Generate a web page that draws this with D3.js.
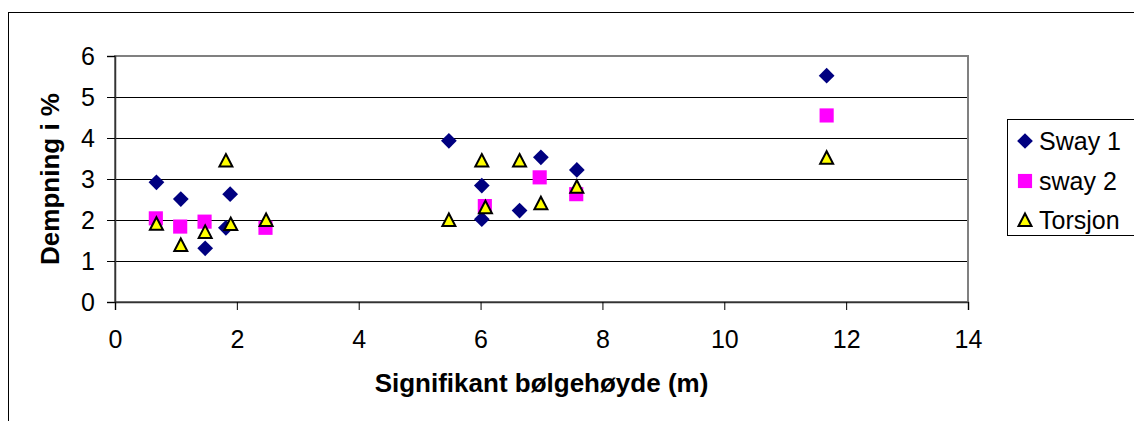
<!DOCTYPE html>
<html>
<head>
<meta charset="utf-8">
<script src="https://cdn.jsdelivr.net/npm/d3@7"></script>
<style>
  body { margin: 0; background: #fff; }
  text { font-family: "Liberation Sans", Arial, sans-serif; }
</style>
</head>
<body>
<div id="chart"></div>
<script>
// Signifikant bølgehøyde (m) vs demping (%)
var sway1X = [0.68, 1.08, 1.48, 1.82, 1.89, 5.48, 6.02, 6.02, 6.64, 6.99, 7.58, 11.68];
var sway1Y = [2.92, 2.51, 1.31, 1.81, 2.63, 3.93, 2.84, 2.02, 2.23, 3.53, 3.22, 5.52];

var sway2X = [0.67, 1.07, 1.47, 2.47, 6.07, 6.97, 7.57, 11.68];
var sway2Y = [2.04, 1.84, 1.96, 1.81, 2.34, 3.04, 2.63, 4.55];

var torsX = [0.68, 1.08, 1.48, 1.82, 1.9, 2.48, 5.48, 6.02, 6.08, 6.64, 6.99, 7.58, 11.68];
var torsY = [1.91, 1.39, 1.71, 3.45, 1.9, 2.0, 2.0, 3.45, 2.31, 3.45, 2.41, 2.81, 3.52];

var seriesNames = ["Sway 1", "sway 2", "Torsjon"];
var xTicks = [0, 2, 4, 6, 8, 10, 12, 14];
var yTicks = [0, 1, 2, 3, 4, 5, 6];

var W = 1134, H = 421;
var margin = {top: 56, left: 115, right: 166, bottom: 119};
var w = W - margin.left - margin.right;
var h = H - margin.top - margin.bottom;

var svg = d3.select("#chart").append("svg")
    .attr("width", W)
    .attr("height", H);

// outer chart frame (runs off the picture right and bottom)
svg.append("rect")
    .attr("x", 8.5).attr("y", 12.5)
    .attr("width", W + 20).attr("height", H + 20)
    .style("fill", "none").style("stroke", "#000").style("stroke-width", 1);

var g = svg.append("g")
    .attr("transform", "translate(" + margin.left + "," + margin.top + ")");

var x = d3.scaleLinear().domain([0, 14]).range([0, w]);
var y = d3.scaleLinear().domain([0, 6]).range([h, 0]);

// gridlines
g.selectAll("line.grid").data(yTicks.filter(function(d) { return d > 0 && d < 6; })).enter()
  .append("line")
    .attr("class", "grid")
    .attr("x1", 0).attr("x2", w)
    .attr("y1", function(d) { return Math.round(y(d)) + 0.5; })
    .attr("y2", function(d) { return Math.round(y(d)) + 0.5; })
    .style("stroke", "#000").style("stroke-width", 1);

// plot area border
g.append("rect")
    .attr("x", 0).attr("y", 0).attr("width", w).attr("height", h)
    .style("fill", "none").style("stroke", "#808080").style("stroke-width", 2);

// axes
var yAxis = g.append("g")
    .call(d3.axisLeft(y).tickValues(yTicks).tickSize(8).tickPadding(12).tickFormat(d3.format("d")));
var xAxis = g.append("g")
    .attr("transform", "translate(0," + h + ")")
    .call(d3.axisBottom(x).tickValues(xTicks).tickSize(8).tickPadding(20).tickFormat(d3.format("d")));

[yAxis, xAxis].forEach(function(a) {
  a.select(".domain").style("stroke", "#333").style("stroke-width", 1.5);
  a.selectAll(".tick line").style("stroke", "#000");
  a.selectAll(".tick text")
    .style("font-family", "'Liberation Sans', Arial, sans-serif")
    .style("font-size", "25px")
    .style("fill", "#000");
});
xAxis.selectAll(".tick text").attr("dy", "0.71em");

// titles
svg.append("text")
    .attr("x", margin.left + w / 2)
    .attr("y", 392)
    .attr("text-anchor", "middle")
    .style("font-size", "26px").style("font-weight", "bold")
    .text("Signifikant bølgehøyde (m)");

svg.append("text")
    .attr("transform", "translate(59," + (margin.top + h / 2) + ") rotate(-90)")
    .attr("text-anchor", "middle")
    .style("font-size", "26px").style("font-weight", "bold")
    .text("Dempning i %");

// marker shapes
var diamond = d3.symbol().type(d3.symbolSquare).size(124);
var square = d3.symbol().type(d3.symbolSquare).size(200);
function triangle() { return "M0,-6.5L6.5,6L-6.5,6Z"; }

function drawSeries(xs, ys, kind) {
  var pts = xs.map(function(d, i) { return [d, ys[i]]; });
  var sel = g.selectAll("path." + kind).data(pts).enter()
    .append("path")
      .attr("class", kind);
  if (kind === "s1") {
    sel.attr("d", diamond)
      .attr("transform", function(d) { return "translate(" + x(d[0]) + "," + y(d[1]) + ") rotate(45)"; })
      .style("fill", "#000080");
  } else if (kind === "s2") {
    sel.attr("d", square)
      .attr("transform", function(d) { return "translate(" + x(d[0]) + "," + y(d[1]) + ")"; })
      .style("fill", "#ff00ff");
  } else {
    sel.attr("d", triangle)
      .attr("transform", function(d) { return "translate(" + x(d[0]) + "," + y(d[1]) + ")"; })
      .style("fill", "#ffff00").style("stroke", "#000").style("stroke-width", 2)
      .style("stroke-linejoin", "miter");
  }
}

drawSeries(sway1X, sway1Y, "s1");
drawSeries(sway2X, sway2Y, "s2");
drawSeries(torsX, torsY, "tr");

// legend
var legend = svg.append("g").attr("transform", "translate(1007,119)");
legend.append("rect")
    .attr("x", 0.5).attr("y", 0.5).attr("width", 200).attr("height", 116)
    .style("fill", "#fff").style("stroke", "#000").style("stroke-width", 1);

var rowY = [22, 62, 101];
seriesNames.forEach(function(name, i) {
  var m = legend.append("path");
  if (i === 0) {
    m.attr("d", diamond).attr("transform", "translate(18," + rowY[i] + ") rotate(45)").style("fill", "#000080");
  } else if (i === 1) {
    m.attr("d", square).attr("transform", "translate(18," + rowY[i] + ")").style("fill", "#ff00ff");
  } else {
    m.attr("d", triangle).attr("transform", "translate(18," + rowY[i] + ")")
      .style("fill", "#ffff00").style("stroke", "#000").style("stroke-width", 2);
  }
  legend.append("text")
      .attr("x", 32)
      .attr("y", rowY[i] + 9)
      .style("font-size", "25px")
      .text(name);
});
</script>
</body>
</html>
